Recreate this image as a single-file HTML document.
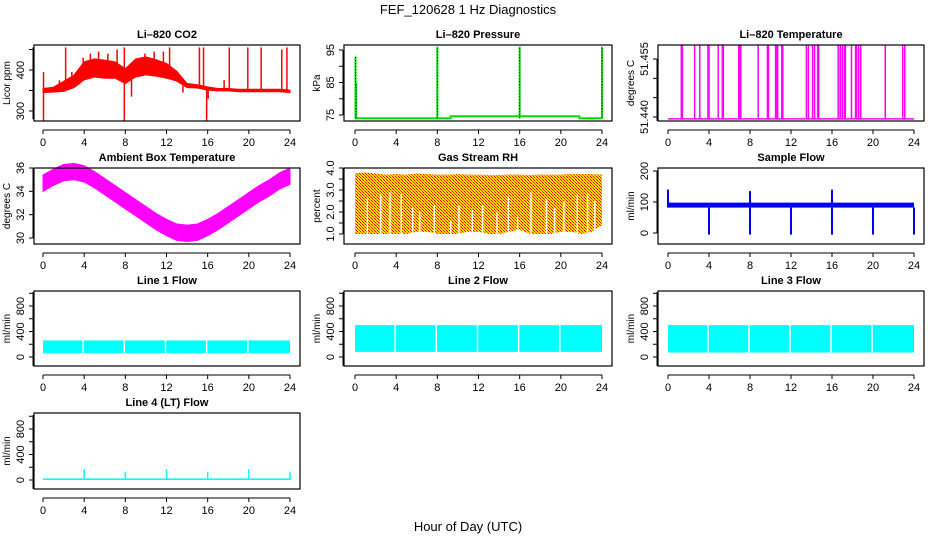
<!DOCTYPE html>
<html><head><meta charset="utf-8"><style>
body{margin:0;background:#fff}
svg{display:block;font-family:"Liberation Sans",Arial,sans-serif}
</style></head><body>
<svg id="c" width="936" height="540" viewBox="0 0 936 540">
<defs>
<pattern id="rhpat" width="3" height="3" patternUnits="userSpaceOnUse">
<rect width="3" height="3" fill="#ffd800"/><rect x="0" y="0" width="1" height="1" fill="#f00"/><rect x="1" y="1" width="1" height="1" fill="#ff6000"/><rect x="2" y="2" width="1" height="1" fill="#f00"/>
</pattern>
</defs>
<text x="468" y="14" text-anchor="middle" font-size="13">FEF_120628  1 Hz Diagnostics</text>
<text x="468" y="531" text-anchor="middle" font-size="13">Hour of Day (UTC)</text>
</svg>
<script>
// ---- data ----
const hours = [0,1,2,3,4,5,6,7,8,9,10,11,12,13,14,15,16,17,18,19,20,21,22,23,24];
const xTicks = [0,4,8,12,16,20,24];
const co2Mid = [350,352,360,372,398,405,402,400,385,405,410,405,398,385,362,360,355,352,352,350,350,350,350,350,348];
const co2Half = [5,6,12,15,22,22,22,20,18,22,22,20,18,12,5,4,4,3,3,3,3,3,3,3,3];
const co2SpikeT = [0.05,0.05,1.6,2.2,2.8,3.9,4.6,5.4,6.3,7.2,7.9,7.9,8.6,9.9,10.8,11.7,12.3,13.6,15.2,15.6,15.9,16.05,17.6,18.1,19.9,21.2,22.5,23.2,23.7];
const co2SpikeV = [275,395,375,455,395,430,440,445,440,450,275,455,335,440,445,445,455,345,455,455,275,330,375,455,455,455,350,450,455];
const presT = [0,0.1,4,4,9.3,9.3,16,21.8,21.8,24];
const presV = [74,74,74,74,74,74.6,74.6,74.6,74,74];
const presSpikeT = [0.05,0.1,8,16,24];
const presSpikeV = [93,85,96,96,96];
const tempBase = 51.4395;
const tempSpikeV = 51.4585;
const tempSpikeT = [1.3,1.4,2.6,3.1,3.9,4.0,4.9,5.3,5.4,6.9,7.0,7.1,8.8,9.7,9.8,10.5,10.6,10.7,11.1,11.2,13.5,13.7,14.1,14.3,14.6,14.7,16.6,16.8,17.0,17.2,17.3,17.9,18.3,18.4,18.6,18.8,21.2,22.9,23.1];
const ambMid = [34.7,35.2,35.6,35.7,35.5,35.0,34.4,33.8,33.2,32.6,32.0,31.4,30.9,30.5,30.4,30.5,30.9,31.4,32.0,32.6,33.2,33.8,34.3,34.9,35.3];
const ambHalf = 0.7;
const rhTop = [3.75,3.8,3.75,3.7,3.72,3.7,3.75,3.72,3.7,3.7,3.72,3.7,3.7,3.68,3.68,3.7,3.7,3.68,3.7,3.7,3.7,3.72,3.72,3.72,3.7];
const rhLo = [1.0,1.0,1.0,1.0,1.0,1.0,1.1,1.1,1.0,1.0,1.0,1.1,1.1,1.0,1.0,1.1,1.2,1.0,1.0,1.0,1.1,1.1,1.0,1.1,1.4];
const rhGapT = [1.2,2.5,3.4,4.5,5.6,6.3,7.7,9.3,10.1,11.4,12.4,13.8,14.9,15.8,17.1,18.6,19.4,20.3,21.6,22.6,23.3];
const rhGapV = [2.6,2.8,2.9,2.8,2.2,2.0,2.3,1.6,2.3,2.1,2.3,2.0,2.7,1.8,2.9,2.6,2.2,2.5,2.8,2.8,2.5];
const sfLo = 82, sfHi = 98;
const sfDropT = [4,8,12,16,20,24];
const sfDropV = [-5,-5,-5,-5,-5,-5];
const sfSpikeT = [0,8,16];
const sfSpikeV = [140,135,140];
const flowGapT = [4,8,12,16,20];
const l1Lo = 60, l1Hi = 260;
const l2Lo = 80, l2Hi = 500;
const l3Lo = 70, l3Hi = 500;
const l4Base = 15;
const l4SpikeT = [4,8,12,16,20,24];
const l4SpikeV = [170,130,170,130,170,130];

// ---- layout ----
const svg = document.getElementById('c');
const NS = 'http://www.w3.org/2000/svg';
const cols = [{bl:34,br:300,x0:43,x24:290},{bl:344,br:612,x0:355,x24:602},{bl:658,br:924,x0:668,x24:914}];
const rows = [{t:45,b:121},{t:168,b:244},{t:291,b:366},{t:413,b:489}];
function mk(tag, attrs, parent){const e=document.createElementNS(NS,tag);for(const k in attrs)e.setAttribute(k,attrs[k]);(parent||svg).appendChild(e);return e;}

function panel(name, title, col, row, v1, p1, v2, p2, yTicks, yLabels, ytitle, ylo, yhi){
  const C=cols[col], R=rows[row];
  const g=mk('g',{});
  
  
  const sx=t=>C.x0+(C.x24-C.x0)*t/24;
  const sy=v=>p1+(p2-p1)*(v-v1)/(v2-v1);
  const t1=mk('text',{x:(C.bl+C.br)/2,y:R.t-7,'text-anchor':'middle','font-size':11,'font-weight':'bold'},g);
  t1.textContent=title;
  
  
  const data=mk('g',{},g);
  
  
  const box=mk('rect',{x:C.bl,y:R.t,width:C.br-C.bl,height:R.b-R.t,fill:'none',stroke:'#000','stroke-width':1.2},g);
  
  
  const xa=mk('g',{},g);
  
  
  const ay=R.b+9;
  mk('line',{x1:sx(0),x2:sx(24),y1:ay,y2:ay,stroke:'#000'},xa);
  xTicks.forEach(t=>{
    mk('line',{x1:sx(t),x2:sx(t),y1:ay,y2:ay+4,stroke:'#000'},xa);
    const tx=mk('text',{x:sx(t),y:ay+16,'text-anchor':'middle','font-size':11},xa);tx.textContent=t;
  });
  const ya=mk('g',{},g);
  
  
  const axx=C.bl-1;
  mk('line',{x1:axx,x2:axx,y1:sy(ylo),y2:sy(yhi),stroke:'#000'},ya);
  yTicks.forEach(v=>{mk('line',{x1:axx-4,x2:axx,y1:sy(v),y2:sy(v),stroke:'#000'},ya);});
  yLabels.forEach(v=>{
    const y=sy(v), x=axx-9;
    const tx=mk('text',{x:x,y:y,'text-anchor':'middle','font-size':11,transform:`rotate(-90 ${x} ${y})`},ya);tx.textContent=v;
  });
  const yt=mk('text',{x:C.bl-24,y:(R.t+R.b)/2,'text-anchor':'middle','font-size':10,transform:`rotate(-90 ${C.bl-24} ${(R.t+R.b)/2})`},g);
  yt.textContent=ytitle;
  
  
  return {g:data,sx,sy};
}
function band(P, mid, lo, hi, color){
  let pts=[];
  hours.forEach((h,i)=>pts.push(P.sx(h)+','+P.sy(hi(i))));
  for(let i=hours.length-1;i>=0;i--)pts.push(P.sx(hours[i])+','+P.sy(lo(i)));
  return mk('polygon',{points:pts.join(' '),fill:color,stroke:color,'stroke-width':1},P.g);
}
function vline(P,t,a,b,color,w,dash){
  const l=mk('line',{x1:P.sx(t),x2:P.sx(t),y1:P.sy(a),y2:P.sy(b),stroke:color,'stroke-width':w||1.5},P.g);
  if(dash)l.setAttribute('stroke-dasharray',dash);
  return l;
}

let P=panel('co2','Li\u2013820 CO2',0,0,300,111,400,70,[300,350,400,450],[300,400],'Licor ppm',280,455);
band(P,co2Mid,i=>co2Mid[i]-co2Half[i],i=>co2Mid[i]+co2Half[i],'#f00');
co2SpikeT.forEach((t,i)=>vline(P,t,co2Mid[Math.round(t)],co2SpikeV[i],'#f00',1.5));

P=panel('pressure','Li\u2013820 Pressure',1,0,75,115,95,50,[75,80,85,90,95],[75,85,95],'kPa',75,95);
mk('polyline',{points:presT.map((t,i)=>P.sx(t)+','+P.sy(presV[i])).join(' '),fill:'none',stroke:'#00e000','stroke-width':2},P.g);
presSpikeT.forEach((t,i)=>{vline(P,t,74,presSpikeV[i],'#00e000',2);vline(P,t,74,presSpikeV[i],'#000',1,'1,2');});

P=panel('li820-temp','Li\u2013820 Temperature',2,0,51.440,117,51.455,59,[51.440,51.445,51.450,51.455],['51.440','51.455'],'degrees C',51.439,51.455);
mk('line',{x1:P.sx(0),x2:P.sx(24),y1:P.sy(tempBase),y2:P.sy(tempBase),stroke:'#f0f','stroke-width':1.5},P.g);
tempSpikeT.forEach(t=>vline(P,t,tempBase,tempSpikeV,'#f0f',1.5));

P=panel('ambient-temp','Ambient Box Temperature',0,1,30,238,36,168,[30,32,34,36],[30,32,34,36],'degrees C',30,36);
band(P,ambMid,i=>ambMid[i]-ambHalf,i=>ambMid[i]+ambHalf,'#f0f');

P=panel('gas-rh','Gas Stream RH',1,1,1.0,234,4.0,168,[1,1.5,2,2.5,3,3.5,4],['1.0','2.0','3.0','4.0'],'percent',1.0,4.0);
band(P,rhTop,i=>rhLo[i],i=>rhTop[i],'url(#rhpat)').setAttribute('stroke','none');
rhGapT.forEach((t,i)=>vline(P,t,0.95,rhGapV[i],'#fff',1.5));

P=panel('sample-flow','Sample Flow',2,1,0,233,200,171,[0,100,200],[0,100,200],'ml/min',0,200);
mk('rect',{x:P.sx(0),y:P.sy(sfHi),width:P.sx(24)-P.sx(0),height:P.sy(sfLo)-P.sy(sfHi),fill:'#0000f0'},P.g);
sfDropT.forEach((t,i)=>vline(P,t,sfLo,sfDropV[i],'#0000f0',2));
sfSpikeT.forEach((t,i)=>vline(P,t,sfLo,sfSpikeV[i],'#0000f0',2));

const fT=[0,200,400,600,800,1000], fL=[0,400,800];
function flow(name,title,col,row,lo,hi,p0,p800){
  const Q=panel(name,title,col,row,0,p0,800,p800,fT,fL,'ml/min',-140,1020);
  mk('rect',{x:Q.sx(0),y:Q.sy(hi),width:Q.sx(24)-Q.sx(0),height:Q.sy(lo)-Q.sy(hi),fill:'#00ffff'},Q.g);
  flowGapT.forEach(t=>vline(Q,t-0.1,lo-5,hi+5,'#fff',1.5));
  return Q;
}
flow('line1-flow','Line 1 Flow',0,2,l1Lo,l1Hi,357,306);
flow('line2-flow','Line 2 Flow',1,2,l2Lo,l2Hi,357,306);
flow('line3-flow','Line 3 Flow',2,2,l3Lo,l3Hi,357,306);
P=panel('line4-flow','Line 4 (LT) Flow',0,3,0,480,800,429,fT,fL,'ml/min',-140,1020);
mk('rect',{x:P.sx(0),y:P.sy(l4Base+10),width:P.sx(24)-P.sx(0),height:P.sy(0)-P.sy(l4Base+10),fill:'#00ffff'},P.g);
l4SpikeT.forEach((t,i)=>vline(P,t,0,l4SpikeV[i],'#00ffff',1.5));
</script>
</body></html>
